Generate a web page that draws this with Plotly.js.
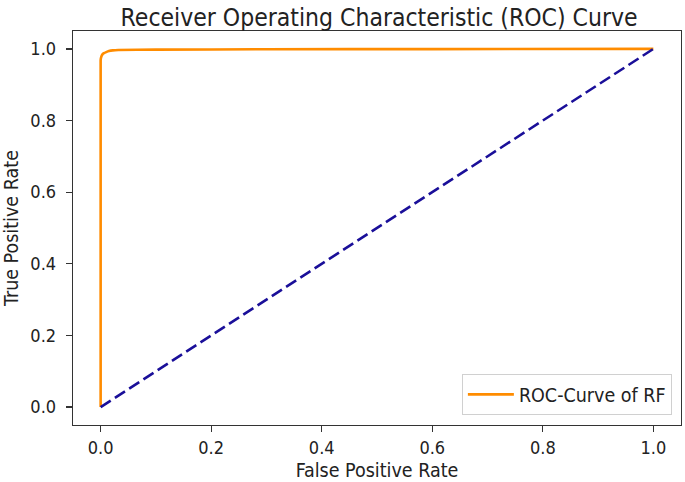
<!DOCTYPE html>
<html><head><meta charset="utf-8">
<script src="https://cdn.plot.ly/plotly-3.0.1.min.js"></script>
<style>html,body{margin:0;padding:0;background:#fff;}#c{width:685px;height:482px;}</style>
</head><body><div id="c"></div>
<script>
const fpr = [0, 0, 0.001, 0.003, 0.006, 0.010, 0.015, 0.022, 0.032, 0.10, 0.30, 0.60, 1.0];
const tpr = [0, 0.968, 0.977, 0.984, 0.988, 0.991, 0.994, 0.996, 0.997, 0.998, 0.999, 0.9995, 1.0];
const diagX = [0, 1];
const diagY = [0, 1];
const tickVals = [0, 0.2, 0.4, 0.6, 0.8, 1.0];
const tickText = ["0.0", "0.2", "0.4", "0.6", "0.8", "1.0"];

const FAM = "DejaVu Sans Condensed, DejaVu Sans";
const tickFont = {family: FAM, size: 18, color: "#222"};
const labFont = {family: FAM, size: 19.5, color: "#222"};
const traces = [
  {x: fpr, y: tpr, type: "scatter", mode: "lines", name: "ROC-Curve of RF",
   line: {color: "#ff8c00", width: 2.6, shape: "spline", smoothing: 0.3}},
  {x: diagX, y: diagY, type: "scatter", mode: "lines", showlegend: false,
   line: {color: "#1a0f99", width: 2.6, dash: "12px,5px"}}
];
const axisCommon = {
  range: [-0.05, 1.05], tickvals: tickVals, ticktext: tickText,
  showgrid: false, zeroline: false, showline: true, mirror: true,
  linecolor: "#333", linewidth: 1.3, ticks: "outside", ticklen: 6,
  tickcolor: "#333", tickwidth: 1.3, tickfont: tickFont
};
const layout = {
  width: 685, height: 482,
  margin: {l: 73, r: 4, t: 31, b: 57},
  paper_bgcolor: "#fff", plot_bgcolor: "#fff",
  font: labFont,
  title: {text: "Receiver Operating Characteristic (ROC) Curve",
          font: {family: FAM, size: 24.5, color: "#222"},
          x: 0.5535, xanchor: "center", yref: "container", y: 0.981, yanchor: "top"},
  xaxis: Object.assign({}, axisCommon, {title: {text: "False Positive Rate", font: labFont, standoff: 7}}),
  yaxis: Object.assign({}, axisCommon, {ticklabelstandoff: 6,
    title: {text: "True Positive Rate", font: labFont, standoff: 8}}),
  showlegend: true,
  legend: {x: 0.985, xanchor: "right", y: 0.025, yanchor: "bottom",
           bgcolor: "rgba(255,255,255,0.8)", bordercolor: "#d0d0d0", borderwidth: 1,
           itemwidth: 46, font: labFont}
};
Plotly.newPlot("c", traces, layout, {displayModeBar: false, staticPlot: true});
</script></body></html>
